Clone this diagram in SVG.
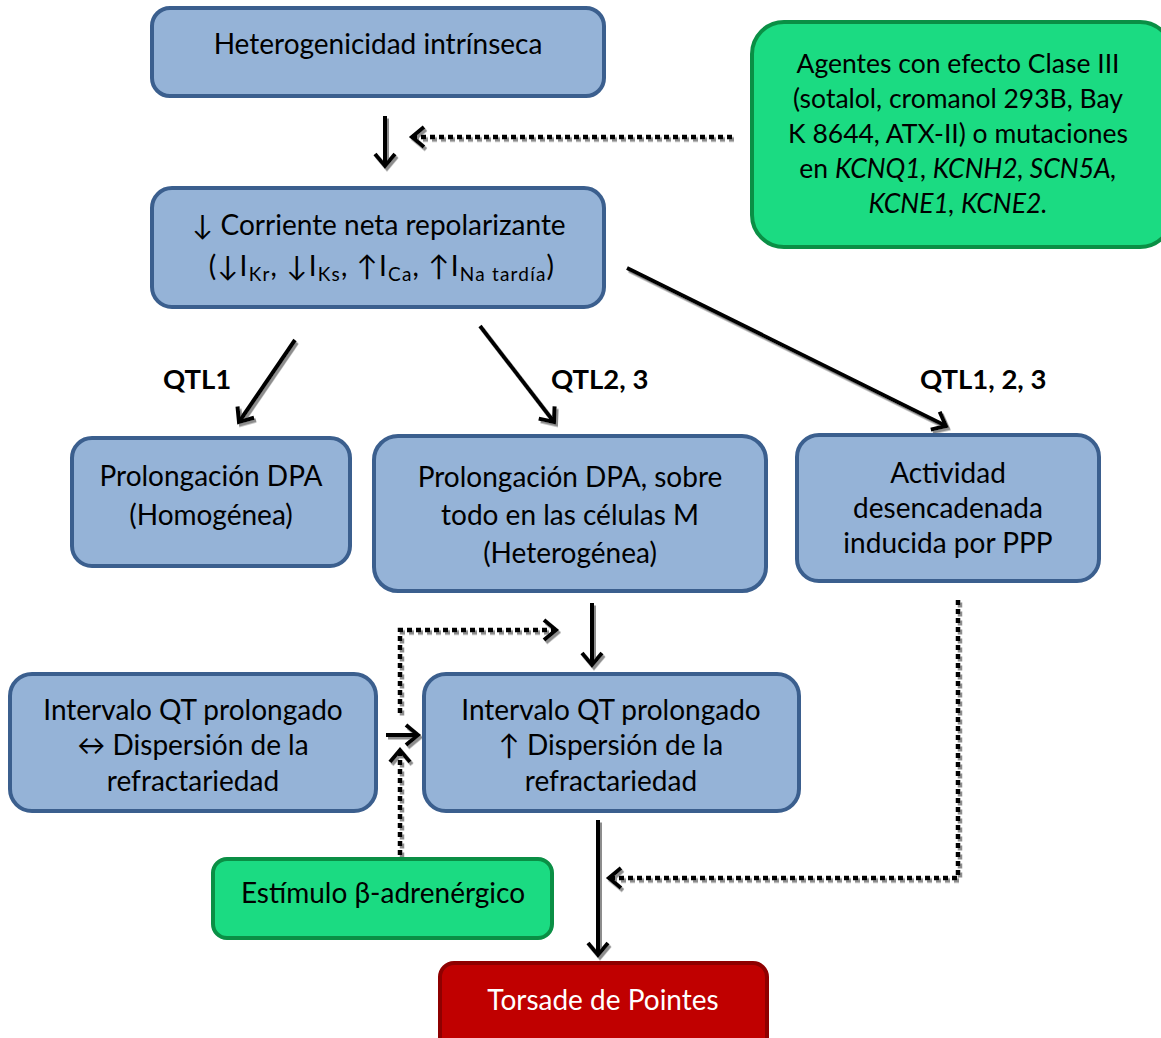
<svg xmlns="http://www.w3.org/2000/svg" width="1161" height="1038" viewBox="0 0 1161 1038">
<style>
.blue{fill:#95B3D7;stroke:#3B5F8E;stroke-width:4}
.green{fill:#1BDB82;stroke:#0A8F45;stroke-width:4}
.red{fill:#C00000;stroke:#8E0000;stroke-width:4}
text{font-family:Lato,"Liberation Sans",sans-serif;font-size:28px;fill:#000;text-anchor:middle}
.g text{font-size:26.5px}
.b{font-weight:bold;font-size:27.5px;text-anchor:start}
.w{fill:#fff}
.ln{stroke:#000;stroke-width:4;fill:none}
.dt{stroke:#000;stroke-width:4.5;fill:none;stroke-dasharray:5 4}
</style>
<defs>
<marker id="ah" markerUnits="userSpaceOnUse" markerWidth="30" markerHeight="30" refX="0" refY="0" viewBox="-16 -15 20 30" orient="auto" overflow="visible">
<path d="M-12,-10 L0,0 L-12,10" fill="none" stroke="#000" stroke-width="4"/>
</marker>
<filter id="sh" x="-20%" y="-20%" width="140%" height="140%">
<feDropShadow dx="2" dy="2.5" stdDeviation="0.6" flood-color="#808080" flood-opacity="0.9"/>
</filter>
</defs>
<g id="connectors" filter="url(#sh)">
<line class="ln" x1="385" y1="116" x2="385" y2="166" marker-end="url(#ah)"/>
<line class="dt" x1="732" y1="137" x2="412" y2="137" marker-end="url(#ah)"/>
<line class="ln" x1="295" y1="340" x2="239" y2="422" marker-end="url(#ah)"/>
<line class="ln" x1="480" y1="326" x2="554" y2="422" marker-end="url(#ah)"/>
<line class="ln" x1="627" y1="268" x2="946" y2="426" marker-end="url(#ah)"/>
<line class="ln" x1="592" y1="603" x2="592" y2="665" marker-end="url(#ah)"/>
<polyline class="dt" points="400,713 400,630 556,630" marker-end="url(#ah)"/>
<line class="ln" x1="386" y1="735" x2="418" y2="735" marker-end="url(#ah)"/>
<line class="dt" x1="400" y1="855" x2="400" y2="750" marker-end="url(#ah)"/>
<line class="ln" x1="598" y1="820" x2="598" y2="955" marker-end="url(#ah)"/>
<polyline class="dt" points="958,600 958,878 609,878" marker-end="url(#ah)"/>
</g>
<g id="labels">
<text class="b" x="163" y="389">QTL1</text>
<text class="b" x="551" y="389">QTL2, 3</text>
<text class="b" x="920" y="389">QTL1, 2, 3</text>
</g>
<g id="n-heterogenicidad">
<rect class="blue" x="152" y="8" width="452" height="88" rx="18"/>
<text x="378" y="54">Heterogenicidad intrínseca</text>
</g>
<g id="n-corriente">
<rect class="blue" x="152" y="188" width="452" height="119" rx="20"/>
<text x="379" y="235">↓ Corriente neta repolarizante</text>
<text x="382" y="276" letter-spacing="1.2">(↓I<tspan dy="5" font-size="19">Kr</tspan><tspan dy="-5">, ↓I</tspan><tspan dy="5" font-size="19">Ks</tspan><tspan dy="-5">, ↑I</tspan><tspan dy="5" font-size="19">Ca</tspan><tspan dy="-5">, ↑I</tspan><tspan dy="5" font-size="19">Na tardía</tspan><tspan dy="-5">)</tspan></text>
</g>
<g id="n-agentes" class="g">
<rect class="green" x="752" y="22" width="420" height="225" rx="32"/>
<text x="958" y="73">Agentes con efecto Clase III</text>
<text x="958" y="108">(sotalol, cromanol 293B, Bay</text>
<text x="958" y="143">K 8644, ATX-II) o mutaciones</text>
<text x="958" y="178">en <tspan font-style="italic">KCNQ1, KCNH2, SCN5A,</tspan></text>
<text x="958" y="213" font-style="italic">KCNE1, KCNE2.</text>
</g>
<g id="n-homogenea">
<rect class="blue" x="72" y="438" width="278" height="128" rx="20"/>
<text x="211" y="486">Prolongación DPA</text>
<text x="211" y="525">(Homogénea)</text>
</g>
<g id="n-heterogenea">
<rect class="blue" x="374" y="436" width="392" height="155" rx="24"/>
<text x="570" y="487">Prolongación DPA, sobre</text>
<text x="570" y="525">todo en las células M</text>
<text x="570" y="563">(Heterogénea)</text>
</g>
<g id="n-actividad">
<rect class="blue" x="797" y="435" width="302" height="146" rx="22"/>
<text x="948" y="483">Actividad</text>
<text x="948" y="518">desencadenada</text>
<text x="948" y="553">inducida por PPP</text>
</g>
<g id="n-qt-left">
<rect class="blue" x="10" y="674" width="366" height="137" rx="22"/>
<text x="193" y="720">Intervalo QT prolongado</text>
<text x="193" y="755">↔ Dispersión de la</text>
<text x="193" y="791">refractariedad</text>
</g>
<g id="n-qt-center">
<rect class="blue" x="424" y="674" width="375" height="137" rx="22"/>
<text x="611" y="720">Intervalo QT prolongado</text>
<text x="611" y="755">↑ Dispersión de la</text>
<text x="611" y="791">refractariedad</text>
</g>
<g id="n-estimulo">
<rect class="green" x="213" y="859" width="339" height="79" rx="14"/>
<text x="383" y="903">Estímulo β-adrenérgico</text>
</g>
<g id="n-torsade">
<rect class="red" x="440" y="963" width="327" height="90" rx="14"/>
<text class="w" x="603" y="1010">Torsade de Pointes</text>
</g>
</svg>
